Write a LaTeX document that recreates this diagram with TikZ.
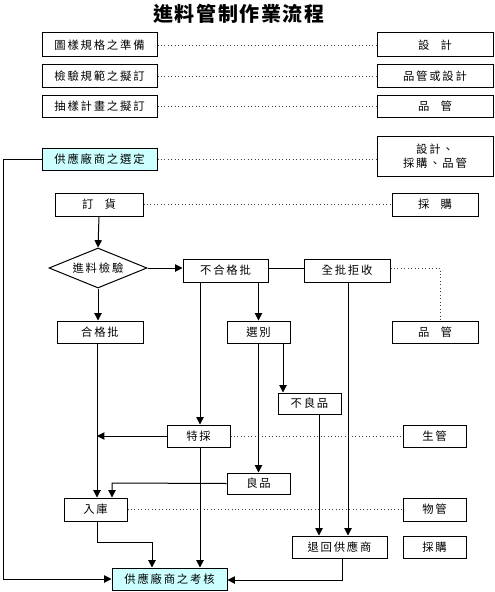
\documentclass[tikz,border=0pt]{standalone}
\usepackage{fontspec}
\newfontfamily\cjk[LetterSpace=16]{Noto Sans CJK TC}
\newfontfamily\cjktitle[LetterSpace=8]{Noto Sans CJK TC}
\usetikzlibrary{arrows.meta,shapes.geometric}
\definecolor{lcyan}{HTML}{CCFFFF}
\tikzset{
  x=0.75pt, y=-0.75pt,
  bx/.style 2 args={draw, line width=0.75pt, inner sep=0pt, align=center,
     minimum width=#1*0.75pt, minimum height=#2*0.75pt,
     font=\cjk\fontsize{8.5}{10.5}\selectfont},
  hl/.style={fill=lcyan},
  dot/.style={dotted, line width=0.6pt, draw=black!75},
  con/.style={line width=0.75pt},
  arr/.style={line width=0.75pt, -{Triangle[length=5.5pt,width=5.5pt]}},
}
\begin{document}
\begin{tikzpicture}
\useasboundingbox (0,0) rectangle (494,592);
\node[font=\cjktitle\bfseries\fontsize{15}{17}\selectfont] (title) at (239,14) {進料管制作業流程};
% top rows
\node[bx={115}{24}] (r1L) at (99.5,45) {圖樣規格之準備};
\node[bx={116}{24}] (r1R) at (435,45) {設\quad 計};
\node[bx={115}{22}] (r2L) at (99.5,76) {檢驗規範之擬訂};
\node[bx={116}{22}] (r2R) at (435,76) {品管或設計};
\node[bx={115}{22}] (r3L) at (99.5,106) {抽樣計畫之擬訂};
\node[bx={116}{22}] (r3R) at (435,106) {品\quad 管};
\node[bx={115}{22},hl] (sel) at (99.5,159) {供應廠商之選定};
\node[bx={116}{40}] (selR) at (435,156) {設計、\\採購、品管};
\node[bx={88}{23}] (order) at (99,204.5) {訂\quad 貨};
\node[bx={86}{23}] (orderR) at (435,204.5) {採\quad 購};
\node[draw, line width=0.75pt, diamond, aspect=2.45, inner sep=0pt,
      minimum width=98*0.75pt, minimum height=40*0.75pt,
      font=\cjk\fontsize{8.5}{10.5}\selectfont] (insp) at (98,268) {進料檢驗};
\node[bx={85}{23}] (ng) at (225.5,270.5) {不合格批};
\node[bx={86}{23}] (rej) at (347,270.5) {全批拒收};
\node[bx={86}{22}] (qc2) at (435,332) {品\quad 管};
\node[bx={86}{22}] (ok) at (100,332) {合格批};
\node[bx={63}{22}] (sort) at (258.5,332) {選別};
\node[bx={63}{21}] (bad) at (309.5,403.5) {不良品};
\node[bx={63}{22}] (spec) at (198.5,436) {特採};
\node[bx={63}{22}] (pc) at (434.5,436) {生管};
\node[bx={63}{21}] (good) at (258.5,483.5) {良品};
\node[bx={63}{23}] (store) at (95.5,509.5) {入庫};
\node[bx={63}{23}] (mm) at (434.5,509.5) {物管};
\node[bx={95}{22}] (ret) at (339.5,547) {退回供應商};
\node[bx={63}{22}] (pur) at (434.5,547) {採購};
\node[bx={115}{22},hl] (eval) at (169.5,579) {供應廠商之考核};
% coordinates
\coordinate (lt) at (3,159);
\coordinate (lb) at (3,579);
\coordinate (qcc) at (440,268);
\coordinate (okx) at (97,436);
\coordinate (gd) at (112,483);
\coordinate (st1) at (97,542);
\coordinate (st2) at (152,542);
\coordinate (rt) at (342,580);
% dotted responsibility lines
\draw[dot] (r1L.east) -- (r1R.west);
\draw[dot] (r2L.east) -- (r2R.west);
\draw[dot] (r3L.east) -- (r3R.west);
\draw[dot] (sel.east) -- (sel.east -| selR.west);
\draw[dot] (order.east) -- (orderR.west);
\draw[dot] (rej.east |- qcc) -- (qcc) -- (qcc |- qc2.north);
\draw[dot] (spec.east) -- (pc.west);
\draw[dot] (store.east) -- (mm.west);
% flow
\draw[con] (sel.west) -- (lt) -- (lb);
\draw[arr] (lb) -- (lb -| eval.west);
\draw[arr] (order.south) -- (insp.north);
\draw[arr] (insp.east) -- (insp.east -| ng.west);
\draw[con] (ng.east |- insp.east) -- (rej.west |- insp.east);
\draw[arr] (insp.south) -- (ok.north -| insp.south);
\draw[arr] (ng.south -| sort.north) -- (sort.north);
\draw[arr] (ng.south -| 200,0) -- (spec.north -| 200,0);
\draw[arr] (rej.south -| 348,0) -- (ret.north -| 348,0);
\draw[arr] (sort.south -| 283,0) -- (bad.north -| 283,0);
\draw[arr] (sort.south) -- (good.north);
\draw[arr] (spec.west) -- (okx);
\draw[arr] (bad.south -| 319,0) -- (ret.north -| 319,0);
\draw[arr] (good.west) -- (gd) -- (store.north -| gd);
\draw[arr] (ok.south -| okx) -- (store.north -| okx);
\draw[arr] (store.south -| st1) -- (st1) -- (st2) -- (eval.north -| st2);
\draw[arr] (spec.south -| 200,0) -- (eval.north -| 200,0);
\draw[arr] (ret.south -| rt) -- (rt) -- (eval.east |- rt);
\end{tikzpicture}
\end{document}
